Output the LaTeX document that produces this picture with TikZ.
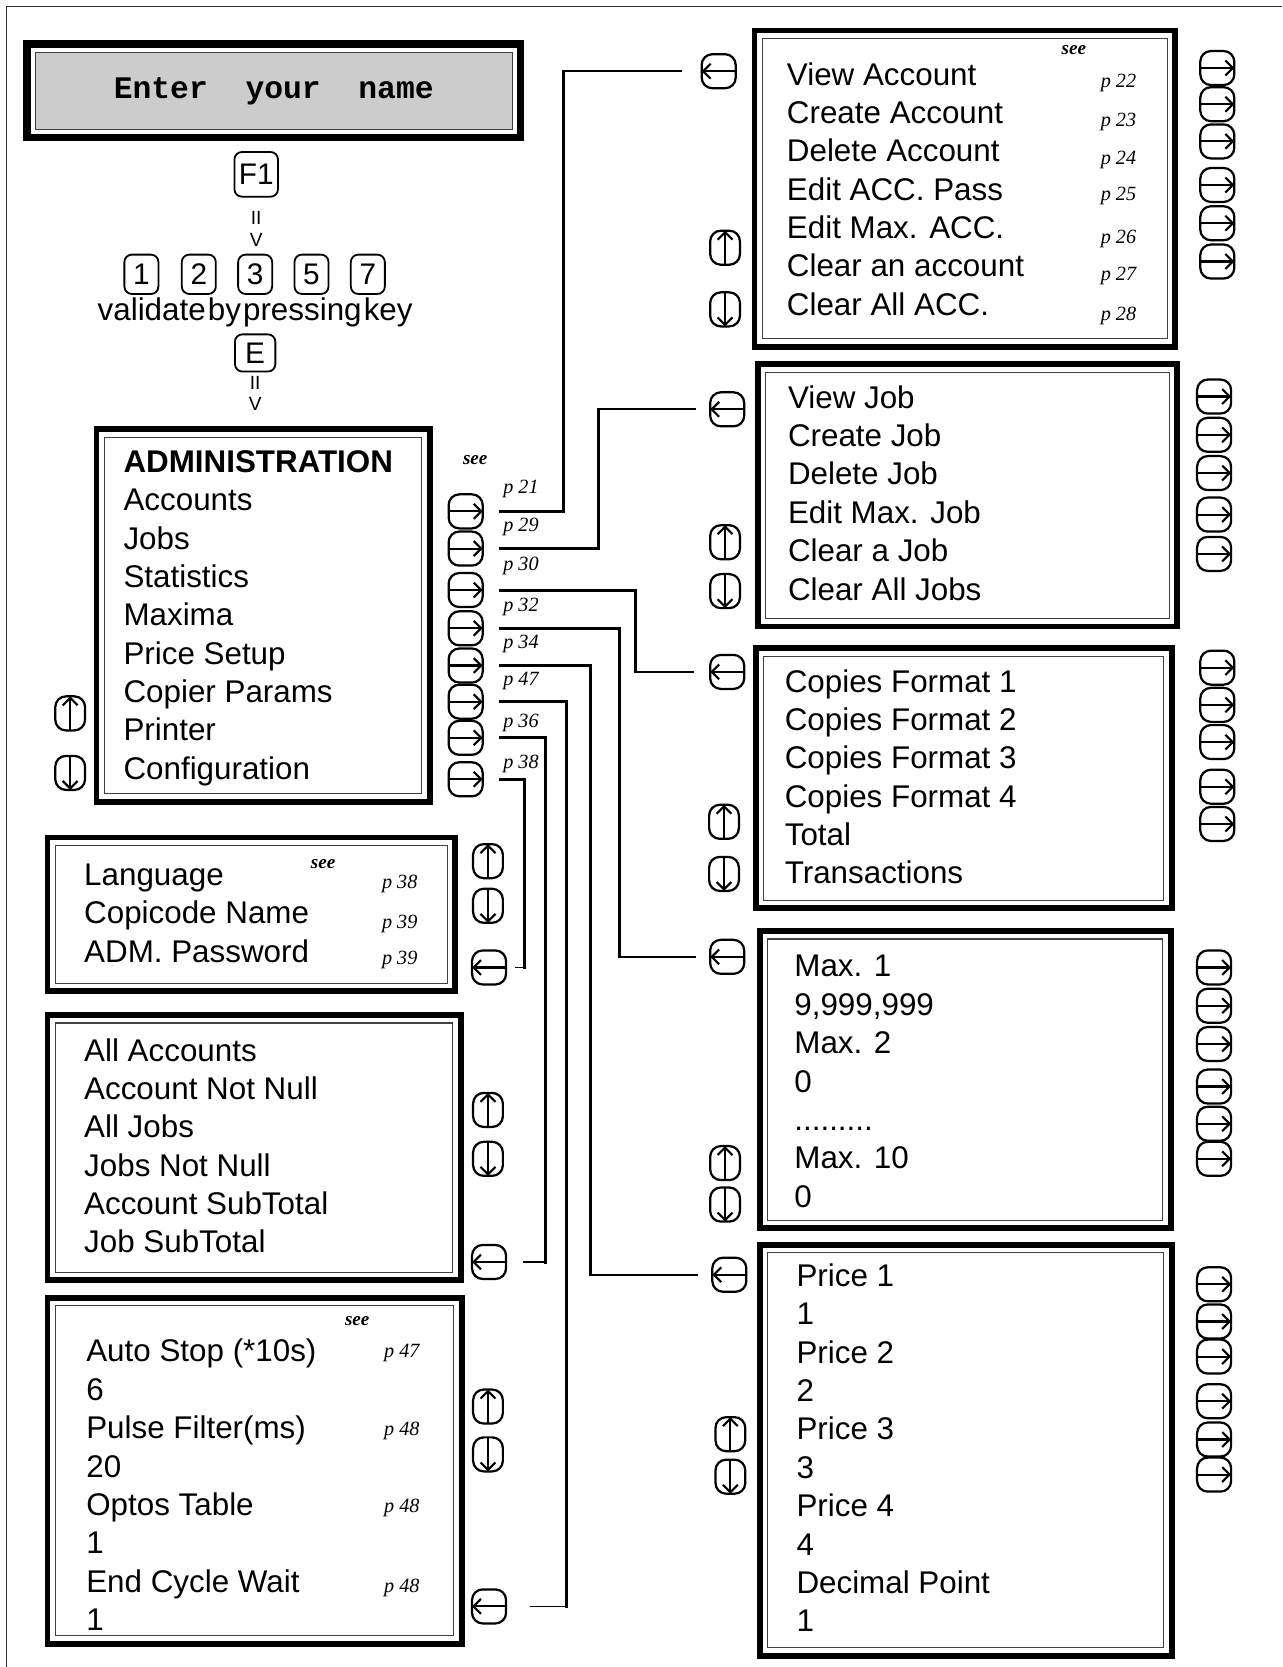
\documentclass[tikz,border=0pt]{standalone}
\usepackage{fontspec}
\setmainfont{Liberation Sans}
\newfontfamily\pgfont{Liberation Serif}
\newfontfamily\lcdfont{Liberation Mono}
\usetikzlibrary{arrows.meta}

\tikzset{
  screen/.style={draw, line width=5.5pt, inner sep=0pt,
    path picture={\draw[line width=1pt, black!75, fill=#1]
      ([shift={(7.5pt,-7.5pt)}]path picture bounding box.north west) rectangle
      ([shift={(-7.5pt,7.5pt)}]path picture bounding box.south east);}},
  screen/.default=none,
  menu/.style={anchor=north west, align=left, inner sep=0pt,
    font=\fontsize{29.5}{36.1}\selectfont},
  pg/.style={anchor=base, inner sep=0pt, font=\pgfont\itshape\fontsize{19}{19}\selectfont},
  seenote/.style={inner sep=0pt, font=\pgfont\bfseries\itshape\fontsize{18}{18}\selectfont},
  keycap/.style={draw, rounded corners=7pt, line width=1.7pt, inner sep=0pt,
    font=\fontsize{28}{28}\selectfont},
  keyflow/.style={anchor=north, align=center, inner sep=0pt, font=\fontsize{18}{20}\selectfont},
  keybox/.style={draw, rounded corners=10pt, line width=2.1pt, inner sep=0pt,
    minimum width=32pt, minimum height=32pt},
  keyline/.style={line width=2pt, -{Straight Barb[length=7pt,width=14pt,line width=2pt]}},
  goR/.style={keybox, path picture={\draw[keyline] (path picture bounding box.west) -- (path picture bounding box.east);}},
  goL/.style={keybox, path picture={\draw[keyline] (path picture bounding box.east) -- (path picture bounding box.west);}},
  goUp/.style={keybox, minimum width=28pt, path picture={\draw[keyline] (path picture bounding box.south) -- (path picture bounding box.north);}},
  goDn/.style={keybox, minimum width=28pt, path picture={\draw[keyline] (path picture bounding box.north) -- (path picture bounding box.south);}},
  wire/.style={line width=2.9pt, line cap=rect},
  wirethin/.style={line width=1.7pt}
}

\begin{document}
\begin{tikzpicture}[x=1pt, y=-1pt]
\useasboundingbox (0,0) rectangle (1206,1568);
\draw[line width=1.5pt, black!80] (6,1568) -- (6,6) -- (1206,6);

% login
\node[screen=black!20, line width=7pt, minimum width=464pt, minimum height=88pt,
  font=\lcdfont\bfseries\fontsize{29.5}{29.5}\selectfont] (nameBox) at (257.5,85.5) {Enter\ \ your\ \ name};
\node[keycap, minimum width=41pt, minimum height=42pt] (kF1) at (241,164) {F1};
\node[keyflow] (flowA) at (241,199) {II\\V};
\foreach \d/\x in {1/133,2/187,3/240,5/293,7/346}
  \node[keycap, minimum width=32pt, minimum height=37pt] (k\d) at (\x,258) {\d};
\node[inner sep=0pt, font=\fontsize{29.5}{29.5}\selectfont] (hint) at (240,294)
  {validate\hspace{2pt}by\hspace{2pt}pressing\hspace{2pt}key};
\node[keycap, minimum width=38pt, minimum height=35pt] (kE) at (240,332) {E};
\node[keyflow] (flowB) at (240,354) {II\\V};

% administration menu
\node[screen, minimum width=313.5pt, minimum height=350.5pt] (admBox) at (247.5,579) {};
\node[menu] (admTxt) at (116,423.4) {\textbf{ADMINISTRATION}\\Accounts\\Jobs\\Statistics\\Maxima\\Price Setup\\Copier Params\\Printer\\Configuration};
\node[goUp] (admUp) at (66,671) {};
\node[goDn] (admDn) at (66,727) {};
\node[seenote] (admSee) at (447,433) {see};
\foreach \y [count=\i] in {481,516,555,591,626,660,694,733}
  \node[goR] (admR\i) at (438,\y) {};
\foreach \y/\p [count=\i] in {464/21,500/29,537/30,575/32,610/34,645/47,684/36,723/38}
  \node[pg] (admP\i) at (490,\y) {p \p};

% configuration
\node[screen, minimum width=383.5pt, minimum height=144.5pt] (cfgBox) at (236.5,860) {};
\node[menu] (cfgTxt) at (79,812.4) {Language\\Copicode Name\\ADM. Password};
\node[seenote] (cfgSee) at (304,813) {see};
\foreach \y/\p [count=\i] in {836/38,873/39,907/39}
  \node[pg] (cfgP\i) at (376,\y) {p \p};
\node[goUp] (cfgUp) at (459,810) {};
\node[goDn] (cfgDn) at (459,852) {};
\node[goL] (cfgBack) at (460,910) {};

% printer
\node[screen, minimum width=388.5pt, minimum height=249.5pt] (statBox) at (239,1079.5) {};
\node[menu] (statTxt) at (79,976.4) {All Accounts\\Account Not Null\\All Jobs\\Jobs Not Null\\Account SubTotal\\Job SubTotal};
\node[goUp] (statUp) at (459,1044) {};
\node[goDn] (statDn) at (459,1090) {};
\node[goL] (statBack) at (460,1187) {};

% copier params
\node[screen, minimum width=389.5pt, minimum height=325.5pt] (prnBox) at (239.5,1383.5) {};
\node[menu] (prnTxt) at (81,1259.4) {Auto Stop (*10s)\\6\\Pulse Filter(ms)\\20\\Optos Table\\1\\End Cycle Wait\\1};
\node[seenote] (prnSee) at (336,1243) {see};
\foreach \y/\p [count=\i] in {1277/47,1350/48,1423/48,1498/48}
  \node[pg] (prnP\i) at (378,\y) {p \p};
\node[goUp] (prnUp) at (459,1323) {};
\node[goDn] (prnDn) at (459,1368) {};
\node[goL] (prnBack) at (460,1511) {};

% accounts
\node[screen, minimum width=395.5pt, minimum height=297.5pt] (accBox) at (907.5,177.5) {};
\node[menu] (accTxt) at (740,58.4) {View Account\\Create Account\\Delete Account\\Edit ACC. Pass\\Edit Max. ACC.\\Clear an account\\Clear All ACC.};
\node[seenote] (accSee) at (1010,47) {see};
\foreach \y/\p [count=\i] in {82/22,119/23,155/24,189/25,229/26,264/27,301/28}
  \node[pg] (accP\i) at (1052,\y) {p \p};
\node[goL] (accBack) at (676,67) {};
\node[goUp] (accUp) at (682,233) {};
\node[goDn] (accDn) at (682,291) {};
\foreach \y [count=\i] in {64,98,133,174,210,246}
  \node[goR] (accR\i) at (1145,\y) {};

% jobs
\node[screen, minimum width=394.5pt, minimum height=246.5pt] (jobBox) at (910,466) {};
\node[menu] (jobTxt) at (741,362.4) {View Job\\Create Job\\Delete Job\\Edit Max. Job\\Clear a Job\\Clear All Jobs};
\node[goL] (jobBack) at (684,385) {};
\node[goUp] (jobUp) at (682,510) {};
\node[goDn] (jobDn) at (682,556) {};
\foreach \y [count=\i] in {373,409,445,484,521}
  \node[goR] (jobR\i) at (1142,\y) {};

% statistics
\node[screen, minimum width=391.5pt, minimum height=244.5pt] (copBox) at (906.5,732) {};
\node[menu] (copTxt) at (738,629.4) {Copies Format 1\\Copies Format 2\\Copies Format 3\\Copies Format 4\\Total\\Transactions};
\node[goL] (copBack) at (684,632) {};
\node[goUp] (copUp) at (681,773) {};
\node[goDn] (copDn) at (681,822) {};
\foreach \y [count=\i] in {628,663,698,740,775}
  \node[goR] (copR\i) at (1145,\y) {};

% maxima
\node[screen, minimum width=386.5pt, minimum height=279.5pt] (maxBox) at (908,1015.5) {};
\node[menu] (maxTxt) at (747,898.4) {Max. 1\\9,999,999\\Max. 2\\0\\.........\\Max. 10\\0};
\node[goL] (maxBack) at (684,900) {};
\node[goUp] (maxUp) at (682,1094) {};
\node[goDn] (maxDn) at (682,1133) {};
\foreach \y [count=\i] in {910,946,982,1022,1057,1090}
  \node[goR] (maxR\i) at (1142,\y) {};

% price setup
\node[screen, minimum width=387.5pt, minimum height=386.5pt] (prcBox) at (908.5,1364) {};
\node[menu] (prcTxt) at (749,1188.4) {Price 1\\1\\Price 2\\2\\Price 3\\3\\Price 4\\4\\Decimal Point\\1};
\node[goL] (prcBack) at (686,1199) {};
\node[goUp] (prcUp) at (687,1349) {};
\node[goDn] (prcDn) at (687,1389) {};
\foreach \y [count=\i] in {1208,1243,1276,1318,1354,1387}
  \node[goR] (prcR\i) at (1142,\y) {};

% links
\coordinate (c21) at (530,0);
\coordinate (c29) at (563,0);
\coordinate (c30) at (598,0);
\coordinate (c32) at (583,0);
\coordinate (c34) at (555,0);
\coordinate (c47) at (533,0);
\coordinate (c36) at (513,0);
\coordinate (c38) at (493,0);
\draw[wire] ([xshift=16pt]admR1.east) -| (c21 |- accBack);
\draw[wirethin] (c21 |- accBack) -- ([xshift=-17pt]accBack.west);
\draw[wire] ([xshift=16pt]admR2.east) -| (c29 |- jobBack);
\draw[wirethin] (c29 |- jobBack) -- ([xshift=-12pt]jobBack.west);
\draw[wire] ([xshift=16pt]admR3.east) -| (c30 |- copBack);
\draw[wirethin] (c30 |- copBack) -- ([xshift=-14pt]copBack.west);
\draw[wire] ([xshift=16pt]admR4.east) -| (c32 |- maxBack);
\draw[wirethin] (c32 |- maxBack) -- ([xshift=-12pt]maxBack.west);
\draw[wire] ([xshift=16pt]admR5.east) -| (c34 |- prcBack);
\draw[wirethin] (c34 |- prcBack) -- ([xshift=-12pt]prcBack.west);
\draw[wire] ([xshift=16pt]admR6.east) -| (c47 |- prnBack);
\draw[wirethin] (c47 |- prnBack) -- ([xshift=21pt]prnBack.east);
\draw[wire] ([xshift=16pt]admR7.east) -| (c36 |- statBack);
\draw[wirethin] (c36 |- statBack) -- ([xshift=15pt]statBack.east);
\draw[wire] ([xshift=16pt]admR8.east) -| (c38 |- cfgBack);
\draw[wirethin] (c38 |- cfgBack) -- ([xshift=7pt]cfgBack.east);
\end{tikzpicture}
\end{document}
